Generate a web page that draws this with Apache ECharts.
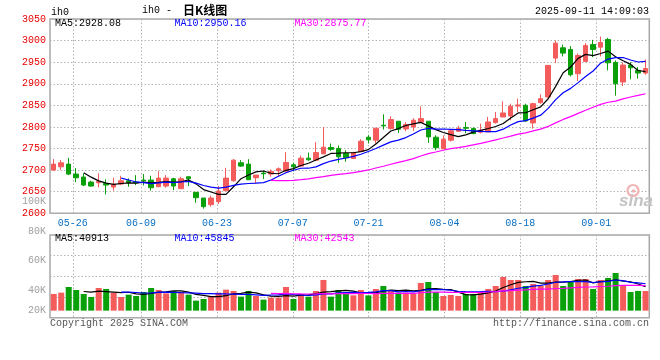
<!DOCTYPE html>
<html><head><meta charset="utf-8">
<script src="https://cdn.jsdelivr.net/npm/echarts@6/dist/echarts.min.js"></script>
<style>html,body{margin:0;padding:0;background:#fff}#c{width:660px;height:360px}</style>
</head><body><div id="c"></div>
<script>
// ---- data ----
const dates = [
 '05-22','05-23','05-26','05-27','05-28','05-29','05-30',
 '06-03','06-04','06-05','06-06','06-09','06-10','06-11','06-12','06-13','06-16','06-17','06-18','06-19','06-20',
 '06-23','06-24','06-25','06-26','06-27','06-30',
 '07-01','07-02','07-03','07-04','07-07','07-08','07-09','07-10','07-11','07-14','07-15','07-16','07-17','07-18',
 '07-21','07-22','07-23','07-24','07-25','07-28','07-29','07-30','07-31',
 '08-01','08-04','08-05','08-06','08-07','08-08','08-11','08-12','08-13','08-14','08-15',
 '08-18','08-19','08-20','08-21','08-22','08-25','08-26','08-27','08-28','08-29',
 '09-01','09-02','09-03','09-04','09-05','09-08','09-09','09-10','09-11'];
const opens = [
 2700.0,2707.7,2713.9,2690.8,2683.9,2672.3,2670.8,2669.2,2660.8,2667.7,
 2675.4,2672.3,2677.0,2676.9,2661.5,2663.1,2680.0,2657.0,2684.6,2648.5,
 2635.4,2620.0,2627.0,2652.3,2675.4,2717.0,2713.9,2682.3,2693.1,2690.8,
 2698.5,2697.7,2712.3,2709.3,2727.7,2723.1,2737.7,2752.4,2750.0,2738.5,
 2727.0,2743.1,2776.2,2769.3,2803.9,2796.2,2813.2,2795.5,2800.1,2810.9,
 2813.2,2776.2,2749.3,2769.3,2790.1,2798.6,2796.2,2787.7,2788.5,2810.1,
 2823.1,2825.5,2848.5,2850.1,2809.3,2856.2,2869.4,2959.4,2983.3,2979.4,
 2923.2,2951.7,2991.0,2984.8,3002.5,2949.4,2904.0,2943.3,2931.0,2924.8];
const closes = [
 2713.9,2717.0,2690.8,2682.3,2665.4,2663.1,2673.9,2665.4,2667.0,2675.4,
 2671.6,2670.8,2675.4,2659.2,2681.5,2681.5,2663.1,2680.0,2680.0,2636.1,
 2615.4,2635.4,2651.5,2681.5,2723.1,2709.3,2677.7,2688.5,2691.5,2697.0,
 2703.1,2717.7,2707.7,2727.7,2723.9,2740.8,2753.1,2747.8,2730.8,2728.5,
 2740.8,2767.0,2770.1,2797.0,2802.4,2817.0,2794.7,2805.5,2815.5,2819.3,
 2777.0,2752.0,2771.6,2790.9,2796.2,2797.0,2784.7,2792.4,2811.6,2819.3,
 2832.4,2847.8,2850.9,2813.9,2853.9,2865.5,2942.5,2994.1,2971.0,2920.9,
 2965.6,2988.7,2979.4,2995.6,2948.6,2900.1,2943.3,2937.1,2924.8,2935.5];
const lows = [
 2698.5,2701.0,2688.5,2672.3,2663.1,2661.5,2660.0,2643.8,2652.3,2665.4,
 2661.5,2665.4,2664.6,2652.3,2661.5,2659.2,2653.8,2657.0,2663.1,2624.6,
 2610.8,2615.4,2621.5,2652.3,2673.1,2707.7,2677.7,2669.2,2679.2,2684.6,
 2686.2,2696.2,2697.0,2707.7,2721.6,2720.8,2737.0,2744.7,2717.0,2719.3,
 2725.4,2743.1,2761.6,2761.6,2794.0,2794.0,2786.2,2790.1,2790.9,2809.3,
 2763.1,2746.2,2749.3,2766.2,2788.6,2785.5,2783.0,2784.7,2788.5,2807.8,
 2823.1,2815.4,2834.7,2811.6,2796.2,2854.0,2868.0,2947.9,2963.3,2917.1,
 2906.3,2951.7,2961.7,2963.3,2931.0,2872.4,2894.8,2910.2,2911.7,2920.9];
const highs = [
 2725.4,2723.5,2728.5,2704.6,2692.3,2675.4,2692.3,2678.5,2682.3,2687.0,
 2680.8,2688.5,2690.8,2687.0,2697.7,2688.5,2682.3,2684.6,2685.4,2648.5,
 2635.4,2640.8,2663.1,2705.4,2725.4,2723.1,2725.4,2688.5,2698.5,2701.6,
 2706.2,2741.6,2717.0,2733.9,2740.8,2764.7,2800.1,2761.6,2757.0,2746.2,
 2742.4,2771.6,2780.8,2797.0,2829.3,2824.7,2813.2,2810.9,2820.1,2847.8,
 2813.2,2780.8,2780.1,2794.0,2802.4,2811.6,2799.0,2807.8,2823.1,2834.7,
 2859.3,2853.9,2865.5,2853.9,2856.0,2875.5,2943.5,3000.2,2991.0,2987.1,
 2970.0,2994.1,3001.7,3009.4,3006.4,2954.0,2949.4,2950.2,2938.6,2956.3];
const volumes = [
 28410,30620,40270,35180,28360,23310,38570,36910,30580,23270,
 27220,24960,31810,38560,35210,29380,33470,31820,27190,17020,
 19870,23820,30590,35720,33460,23790,33510,24970,18720,22080,
 22130,40310,19860,28420,23770,33480,52210,23830,35170,28410,
 26030,35160,25980,36870,42010,35220,30570,30630,29390,47110,
 48760,31820,24970,26710,25010,28370,28410,31770,36910,41970,
 57310,52170,52220,41960,45410,41980,52160,60720,42010,49790,
 53910,53860,36920,52170,55610,64070,42010,31760,33520,33470];

const dateTickLabels = ['05-26','06-09','06-23','07-07','07-21','08-04','08-18','09-01'];
const priceAxis = {min: 2600, max: 3050, step: 50};
const volTickLabels = ['80K','60K','40K','20K'];
const priceExtraLabel = '100K';
const priceMALegend = ['MA5:2928.08','MA10:2950.16','MA30:2875.77'];
const volMALegend = ['MA5:40913','MA10:45845','MA30:42543'];
const titleCode = 'ih0';
const titleText = '日K线图';
const stampText = '2025-09-11 14:09:03';
const footLeft = 'Copyright 2025 SINA.COM';
const footRight = 'http://finance.sina.com.cn';

// ---- helpers ----
function movingAverage(vals, n) {
  return vals.map((v, i) => {
    if (i < n - 1) return '-';
    let s = 0; for (let k = i - n + 1; k <= i; k++) s += vals[k];
    return +(s / n).toFixed(2);
  });
}
const RED = '#f45c5c', GREEN = '#0aa00a';
const MA_COLORS = ['#000000', '#0000ff', '#ff00ff'];
const MONO = '"Liberation Mono", "DejaVu Sans Mono", monospace';
const GRIDC = '#b4b4b4';
const DOT = [1.5, 2];

const candleData = dates.map((d, i) => [opens[i], closes[i], lows[i], highs[i]]);
// Sina places its date grid on a slot scale one slot shorter than the candle count
const tickAxisData = [''].concat(dates.slice(0, dates.length - 1));
const tickFn = (idx, val) => dateTickLabels.indexOf(val) >= 0;

const chart = echarts.init(document.getElementById('c'), null, {renderer: 'canvas'});

const grids = [
  {left: 50, top: 19, width: 599.3, height: 194.3, show: true, borderColor: '#a8a8a8', borderWidth: 1.5, outerBoundsMode: 'none'},
  {left: 50, top: 235, width: 599.3, height: 82.7, show: true, borderColor: '#a8a8a8', borderWidth: 1.5, outerBoundsMode: 'none'}
];

function txt(x, y, text, fill, align, font) {
  return {type: 'text', x: x, y: y, z: 50, silent: true,
    style: {text: text, fill: fill, align: align || 'left', verticalAlign: 'middle', font: font || ('10px ' + MONO)}};
}

const graphics = [
  txt(51, 12.5, titleCode, '#000'),
  txt(142, 10.5, titleCode + ' -', '#000'),
  txt(183, 10, titleText, '#000', 'left', 'bold 12px "Noto Sans CJK SC"'),
  txt(649, 11.5, stampText, '#000', 'right'),
  txt(55, 23.5, priceMALegend[0], MA_COLORS[0]),
  txt(174.5, 23.5, priceMALegend[1], MA_COLORS[1]),
  txt(294.5, 23.5, priceMALegend[2], MA_COLORS[2]),
  txt(46, 201, priceExtraLabel, '#a0a0a0', 'right'),
  txt(55, 238.5, volMALegend[0], MA_COLORS[0]),
  txt(174.5, 238.5, volMALegend[1], MA_COLORS[1]),
  txt(294.5, 238.5, volMALegend[2], MA_COLORS[2]),
  txt(46, 231, volTickLabels[0], '#a0a0a0', 'right'),
  txt(46, 260.7, volTickLabels[1], '#a0a0a0', 'right'),
  txt(46, 290.7, volTickLabels[2], '#a0a0a0', 'right'),
  txt(46, 310.7, volTickLabels[3], '#a0a0a0', 'right'),
  txt(50, 323.5, footLeft, '#555', 'left'),
  txt(649, 323.5, footRight, '#555', 'right'),
  // sina watermark
  {type: 'circle', silent: true, z: 1, shape: {cx: 633, cy: 190.5, r: 5.5},
   style: {fill: 'none', stroke: '#f2b4b4', lineWidth: 2.2}},
  {type: 'circle', silent: true, z: 1, shape: {cx: 633.5, cy: 191, r: 1.8},
   style: {fill: '#f2b4b4'}},
  {type: 'text', silent: true, z: 1, x: 619, y: 201,
   style: {text: 'sina', fill: '#c4c4c4', align: 'left', verticalAlign: 'middle',
           font: 'italic bold 17px "Liberation Sans", sans-serif'}}
];

const option = {
  animation: false,
  backgroundColor: '#fff',
  grid: grids,
  xAxis: [
    {type: 'category', gridIndex: 0, data: dates, boundaryGap: true, show: false},
    {type: 'category', gridIndex: 0, data: tickAxisData, boundaryGap: false, position: 'bottom',
     axisLine: {show: false}, axisTick: {show: false},
     axisLabel: {interval: tickFn, color: '#0a70c4', fontFamily: MONO, fontSize: 10, margin: 5, hideOverlap: false},
     splitLine: {show: true, interval: tickFn, lineStyle: {color: GRIDC, type: DOT, width: 1}}},
    {type: 'category', gridIndex: 1, data: dates, boundaryGap: true, show: false},
    {type: 'category', gridIndex: 1, data: tickAxisData, boundaryGap: false, position: 'bottom',
     axisLine: {show: false}, axisTick: {show: false}, axisLabel: {show: false},
     splitLine: {show: true, interval: tickFn, lineStyle: {color: GRIDC, type: DOT, width: 1}}}
  ],
  yAxis: [
    {type: 'value', gridIndex: 0, min: priceAxis.min, max: priceAxis.max, interval: priceAxis.step,
     axisLine: {show: false}, axisTick: {show: false},
     axisLabel: {color: '#e80000', fontFamily: MONO, fontSize: 10, margin: 4, padding: [0, 0, 3, 0],
                 formatter: v => String(v)},
     splitLine: {show: true, lineStyle: {color: GRIDC, type: DOT, width: 1}}},
    {type: 'value', gridIndex: 1, min: -12000, max: 128700, show: false, splitLine: {show: false}},
    {type: 'value', gridIndex: 1, min: 0, max: 4, interval: 1, position: 'left',
     axisLine: {show: false}, axisTick: {show: false}, axisLabel: {show: false},
     splitLine: {show: true, lineStyle: {color: GRIDC, type: DOT, width: 1}}}
  ],
  series: [
    {type: 'candlestick', xAxisIndex: 0, yAxisIndex: 0, data: candleData, barWidth: 5,
     itemStyle: {color: RED, color0: GREEN, borderColor: RED, borderColor0: GREEN, borderWidth: 1}},
    {type: 'line', name: 'MA5', xAxisIndex: 0, yAxisIndex: 0, data: movingAverage(closes, 5), showSymbol: false, symbol: 'none',
     lineStyle: {color: MA_COLORS[0], width: 1.2}},
    {type: 'line', name: 'MA10', xAxisIndex: 0, yAxisIndex: 0, data: movingAverage(closes, 10), showSymbol: false, symbol: 'none',
     lineStyle: {color: MA_COLORS[1], width: 1.2}},
    {type: 'line', name: 'MA30', xAxisIndex: 0, yAxisIndex: 0, data: movingAverage(closes, 30), showSymbol: false, symbol: 'none',
     lineStyle: {color: MA_COLORS[2], width: 1.2}},
    {type: 'bar', xAxisIndex: 2, yAxisIndex: 1, data: volumes, barWidth: 6,
     itemStyle: {color: p => closes[p.dataIndex] >= opens[p.dataIndex] ? RED : GREEN}},
    {type: 'line', xAxisIndex: 2, yAxisIndex: 1, data: movingAverage(volumes, 5), showSymbol: false, symbol: 'none',
     lineStyle: {color: MA_COLORS[0], width: 1.2}},
    {type: 'line', xAxisIndex: 2, yAxisIndex: 1, data: movingAverage(volumes, 10), showSymbol: false, symbol: 'none',
     lineStyle: {color: MA_COLORS[1], width: 1.2}},
    {type: 'line', xAxisIndex: 2, yAxisIndex: 1, data: movingAverage(volumes, 30), showSymbol: false, symbol: 'none',
     lineStyle: {color: MA_COLORS[2], width: 1.2}}
  ],
  graphic: graphics
};
chart.setOption(option);
</script>
</body></html>
